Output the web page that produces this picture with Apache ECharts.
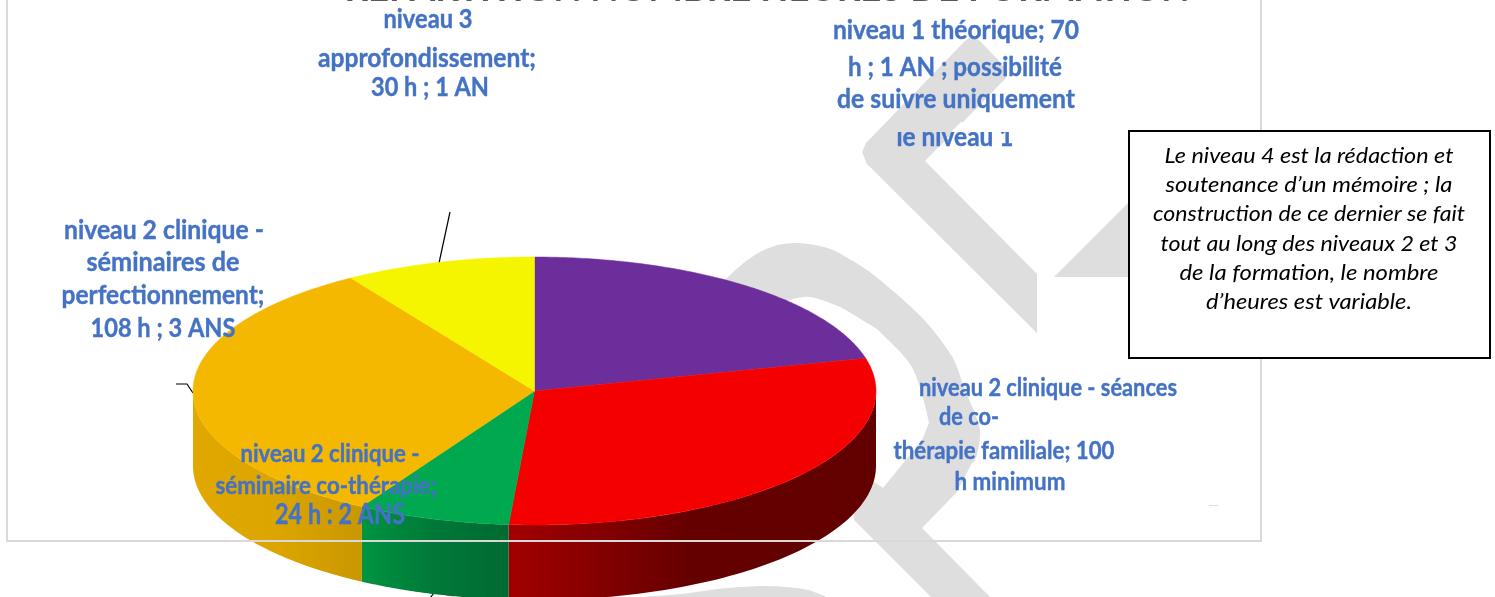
<!DOCTYPE html>
<html>
<head>
  <meta charset="utf-8">
  <title>Répartition nombre heures de formation</title>
  <script src="https://cdn.jsdelivr.net/npm/echarts@6/dist/echarts.min.js"></script>
  <style>
    html, body { margin: 0; padding: 0; background: #fff; overflow: hidden; }
    #chart { width: 1495px; height: 597px; }
  </style>
</head>
<body>
<div id="chart"></div>
<script>
var categories = ["niveau 1 théorique", "niveau 2 clinique - séances de co-thérapie familiale", "niveau 2 clinique - séminaire co-thérapie", "niveau 2 clinique - séminaires de perfectionnement", "niveau 3 approfondissement"];
var hours = [70, 100, 24, 108, 30];

var titleText = "RÉPARTITION NOMBRE HEURES DE FORMATION";
var labelLines = [
    ["niveau 1 théorique; 70", "h ; 1 AN ; possibilité", "de suivre uniquement"],
    ["niveau 2 clinique - séances", "de co-", "thérapie familiale; 100", "h minimum"],
    ["niveau 2 clinique -", "séminaire co-thérapie;", "24 h : 2 ANS"],
    ["niveau 2 clinique -", "séminaires de", "perfectionnement;", "108 h ; 3 ANS"],
    ["niveau 3", "approfondissement;", "30 h ; 1 AN"]
];
var croppedLine = "le niveau 1";
var noteLines = [
    "Le niveau 4 est la rédaction et",
    "soutenance d’un mémoire ; la",
    "construction de ce dernier se fait",
    "tout au long des niveaux 2 et 3",
    "de la formation, le nombre",
    "d’heures est variable."
];

// styles and layout, [centre x, centre y, width, font size] for each text line
var topColors = ["#6C2E9B", "#F40000", "#00A94F", "#F5B800", "#F5F500"];
var sideColors = [
    null,
    ["#A30000", "#640000", "#620000"],
    ["#009442", "#007838", "#006A30"],
    ["#E0A800", "#DCA500", "#C99700"],
    null
];
var labelBoxes = [
    [[956, 31, 246, 26], [955, 68, 214, 26], [956, 100, 238, 26]],
    [[1048, 388, 258, 25], [969, 417, 60, 25], [1004, 451, 221, 25], [1010, 482, 111, 25]],
    [[330, 454, 179, 25], [326, 486, 221, 25], [340, 515, 130, 28]],
    [[164, 230, 200, 27], [163, 262, 153, 27], [163, 295, 203, 27], [163, 328, 145, 27]],
    [[428, 20, 89, 26], [427, 59, 218, 26], [430, 88, 118, 26]]
];
var noteBoxes = [[1309, 156, 289], [1309, 185, 287], [1309, 214, 312], [1309, 244, 297], [1309, 273, 259], [1309, 302, 206]];
var depth = 0.56;
var labelColor = "#4472C4";
var markColor = "#DEDEDE";

var measure = document.createElement("canvas").getContext("2d");
function textEl(text, box, font, color, z, weight) {
    measure.font = font;
    return {
        type: "text",
        z: z,
        x: box[0],
        y: box[1],
        scaleX: box[2] / measure.measureText(text).width,
        silent: true,
        style: { text: text, font: font, fill: color, stroke: weight ? color : null, lineWidth: weight || 0, align: "center", verticalAlign: "middle" }
    };
}

function poly(points, smooth) {
    return { type: "polygon", z: 0, silent: true, shape: { points: points, smooth: smooth || 0 }, style: { fill: markColor } };
}

function leader(points) {
    return { type: "polyline", z: 1, silent: true, shape: { points: points }, style: { stroke: "#000", lineWidth: 1.2, fill: null } };
}

function rim(api, angle, drop) {
    return api.coord([Math.sin(angle), Math.cos(angle) - (drop || 0)]);
}

var total = hours.reduce(function(a, b) { return a + b; }, 0);

function renderSlice(params, api) {
    var i = params.dataIndex;
    var before = 0;
    for (var k = 0; k < i; k++) before += hours[k];
    var start = before / total * 2 * Math.PI;
    var end = (before + api.value(0)) / total * 2 * Math.PI;
    var children = [];

    // side wall, only the part of the rim that faces the viewer
    var a0 = Math.max(start, Math.PI / 2);
    var a1 = Math.min(end, Math.PI * 1.5);
    if (a1 > a0 && sideColors[i]) {
        var wall = [];
        var n;
        for (n = 0; n <= 60; n++) wall.push(rim(api, a0 + (a1 - a0) * n / 60));
        for (n = 60; n >= 0; n--) wall.push(rim(api, a0 + (a1 - a0) * n / 60, depth));
        children.push({
            type: "polygon",
            shape: { points: wall },
            style: {
                fill: new echarts.graphic.LinearGradient(0, 0, 1, 0, [
                    { offset: 0, color: sideColors[i][0] },
                    { offset: 0.5, color: sideColors[i][1] },
                    { offset: 1, color: sideColors[i][2] }
                ])
            }
        });
    }

    // top face
    var face = [api.coord([0, 0])];
    for (var m = 0; m <= 120; m++) face.push(rim(api, start + (end - start) * m / 120));
    children.push({
        type: "polygon",
        shape: { points: face },
        style: { fill: topColors[i], stroke: topColors[i], lineWidth: 0.5 }
    });

    return { type: "group", children: children };
}

var elements = [
    // watermark behind the chart
    poly([[972, 36], [965, 41], [866, 143], [862, 152], [867, 164], [1037, 333], [1037, 274], [925, 161], [1006, 78], [1007, 70], [1000, 62], [980, 41]]),
    poly([[1054, 277], [1200, 131], [1200, 277]]),
    poly([[700, 310], [727, 278], [745, 262], [760, 252], [778, 245], [797, 243], [815, 245], [833, 250], [867, 270], [900, 297], [927, 323], [953, 358], [965, 390], [980, 430], [972, 463], [925, 440], [929, 423], [912, 367], [878, 330], [867, 323], [840, 307], [810, 297], [790, 300], [760, 312]], 0.25),
    poly([[980, 430], [972, 463], [956, 493], [922, 528], [990, 597], [931, 597], [854, 520], [850, 465], [883, 488], [922, 440], [929, 423]]),
    poly([[610, 600], [680, 594], [727, 588], [767, 586], [808, 590], [829, 600]], 0.3),
    poly([[1209, 505], [1218, 505], [1218, 506], [1209, 506]]),

    // chart frame, it crosses the pie
    { type: "polyline", z: 3, silent: true, shape: { points: [[7, -5], [7, 541], [1261, 541], [1261, -5]] }, style: { stroke: "#D9D9D9", lineWidth: 2, fill: null } },

    leader([[450, 212], [439, 263]]),
    leader([[176, 384], [187, 384], [193, 393]]),
    leader([[434, 593], [430, 598]]),

    // note box
    { type: "rect", z: 4, silent: true, shape: { x: 1129, y: 131, width: 361, height: 227 }, style: { fill: "#fff", stroke: "#000", lineWidth: 2 } },

    textEl(titleText, [767, -10, 845], "bold 34px Lato", "#595959", 5),

    // the last line of the first label has its top cut off in the picture
    textEl(croppedLine, [955, 138, 117], "bold 26px Lato", labelColor, 5, 0.4),
    { type: "rect", z: 6, silent: true, shape: { x: 893, y: 122, width: 125, height: 10 }, style: { fill: "#fff" } },
    { type: "polygon", z: 7, silent: true, shape: { points: [[893, 122], [961, 122], [951, 132], [893, 132]] }, style: { fill: markColor } }
];

labelLines.forEach(function(lines, i) {
    lines.forEach(function(line, j) {
        var box = labelBoxes[i][j];
        elements.push(textEl(line, box, "bold " + box[3] + "px Lato", labelColor, 8, 0.4));
    });
});
noteLines.forEach(function(line, j) {
    elements.push(textEl(line, noteBoxes[j], "italic 22px Lato", "#000", 8));
});

var myChart = echarts.init(document.getElementById("chart"), null, { renderer: "canvas" });
myChart.setOption({
    animation: false,
    backgroundColor: "#fff",
    grid: { left: 193, top: 257, width: 683, height: 268 },
    xAxis: { type: "value", min: -1, max: 1, show: false },
    yAxis: { type: "value", min: -1, max: 1, show: false },
    graphic: { elements: elements },
    series: [{
        type: "custom",
        name: "heures",
        z: 2,
        clip: false,
        renderItem: renderSlice,
        data: hours.map(function(v, i) { return { name: categories[i], value: [v] }; })
    }]
});
</script>
</body>
</html>
